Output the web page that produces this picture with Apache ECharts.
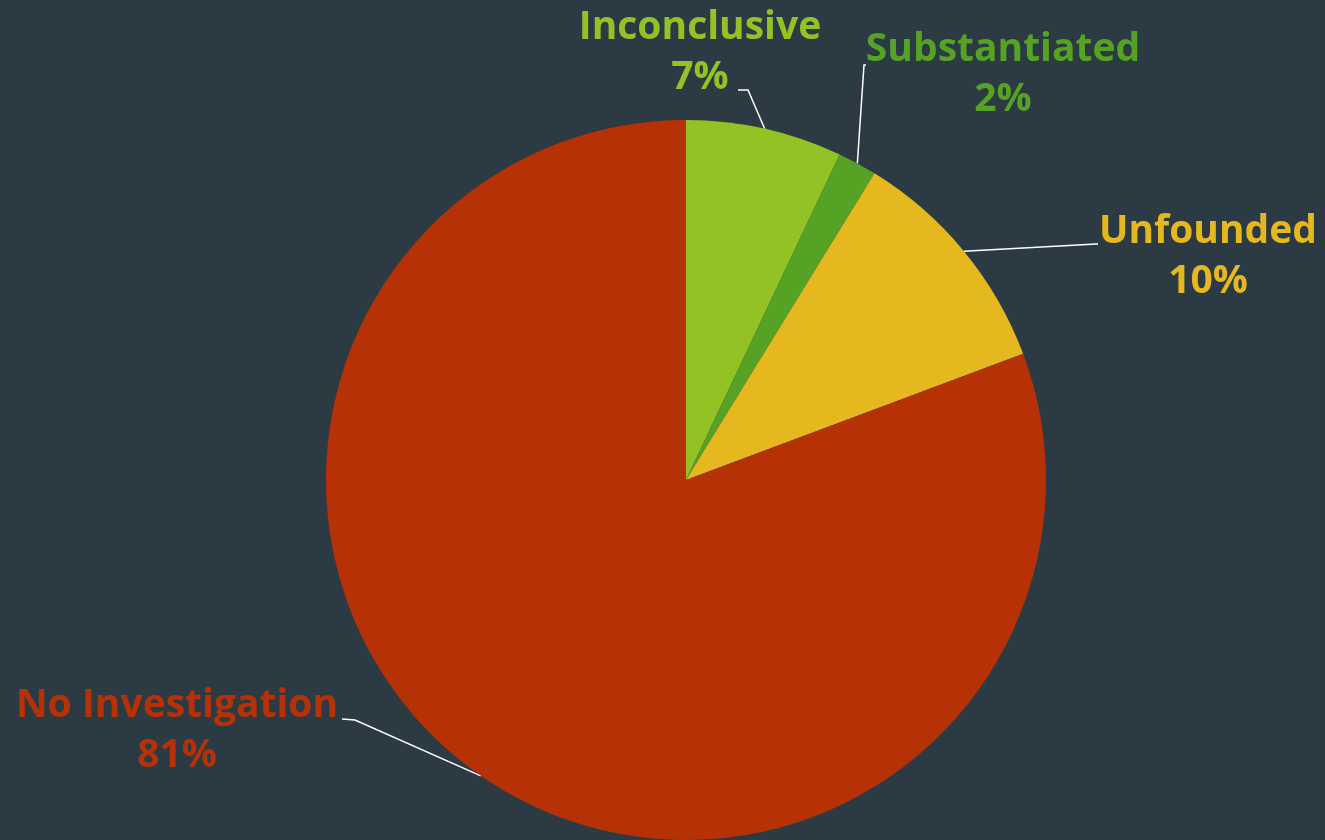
<!DOCTYPE html>
<html>
<head>
<meta charset="utf-8">
<title>Investigation outcomes</title>
<script src="https://cdn.jsdelivr.net/npm/echarts@6/dist/echarts.min.js"></script>
<style>
  html, body { margin: 0; padding: 0; background: #2c3b43; }
  #chart { width: 1325px; height: 840px; }
</style>
</head>
<body>
<div id="chart"></div>
<script>
// data
const categories = ['Inconclusive', 'Substantiated', 'Unfounded', 'No Investigation'];
const counts = [4, 1, 6, 46];
const percentLabels = ['7%', '2%', '10%', '81%'];
const colors = ['#93c225', '#55a225', '#e5b81f', '#b63105'];
const totalLabel = 'N = 57';

// where each label block sits (centre of the two text lines)
const labelSpots = [
    [700, 53],
    [1003, 75],
    [1208, 257],
    [177, 731]
];
// elbow and end of each leader line
const leaderBends = [
    [[748, 90], [738, 90]],
    [[864, 65], [866, 65]],
    [[1096, 244], [1098, 244]],
    [[355, 720], [342, 719]]
];

const chart = echarts.init(document.getElementById('chart'));

const option = {
    backgroundColor: '#2c3b43',
    animation: false,
    graphic: [
        {
            type: 'text',
            left: 625,
            top: 636,
            style: {
                text: totalLabel,
                fill: '#000000',
                font: 'bold 42px "Open Sans", sans-serif'
            }
        }
    ],
    series: [
        {
            type: 'pie',
            center: [686, 480],
            radius: 360,
            startAngle: 90,
            clockwise: true,
            avoidLabelOverlap: false,
            data: categories.map((name, i) => ({
                name: name,
                value: counts[i],
                itemStyle: { color: colors[i] },
                label: { color: colors[i] }
            })),
            itemStyle: {
                borderWidth: 0
            },
            label: {
                show: true,
                position: 'outside',
                formatter: p => p.name + '\n' + percentLabels[p.dataIndex],
                fontFamily: '"Open Sans", sans-serif',
                fontWeight: 'bold',
                fontSize: 39,
                lineHeight: 50,
                align: 'center'
            },
            labelLine: {
                show: true,
                length: 20,
                length2: 20,
                lineStyle: { color: '#ffffff', width: 1.5 }
            },
            labelLayout: params => {
                const i = params.dataIndex;
                const out = {
                    x: labelSpots[i][0],
                    y: labelSpots[i][1],
                    align: 'center',
                    verticalAlign: 'middle'
                };
                if (params.labelLinePoints) {
                    out.labelLinePoints = [
                        params.labelLinePoints[0],
                        leaderBends[i][0],
                        leaderBends[i][1]
                    ];
                }
                return out;
            }
        }
    ]
};

chart.setOption(option);
</script>
</body>
</html>
